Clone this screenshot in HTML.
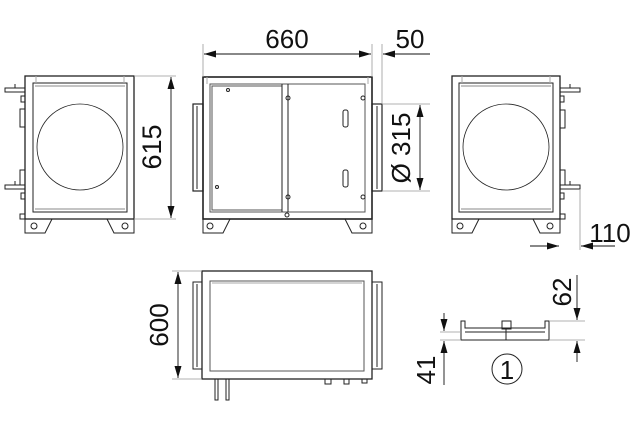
<!DOCTYPE html>
<html><head><meta charset="utf-8"><style>
html,body{margin:0;padding:0;background:#fff;}
svg{display:block;}
text{font-family:"Liberation Sans",sans-serif;fill:#111;}
</style></head><body>
<svg width="640" height="423" viewBox="0 0 640 423" xmlns="http://www.w3.org/2000/svg">
<defs>
<marker id="a" viewBox="0 0 12 7" refX="12" refY="3.5" markerWidth="12" markerHeight="7" markerUnits="userSpaceOnUse" orient="auto"><path d="M0,0L12,3.5L0,7z" fill="#111"/></marker>
</defs>
<g fill="none" stroke="#222" stroke-width="1">
<!-- LEFT VIEW -->
<rect x="25" y="76" width="109" height="143" stroke-width="1.3"/>
<rect x="33" y="83" width="94" height="129"/>
<line x1="35" y1="86" x2="125" y2="86" stroke="#888"/>
<line x1="35" y1="209" x2="125" y2="209" stroke="#888"/>
<line x1="36" y1="76" x2="36" y2="83" stroke="#aaa"/>
<line x1="124" y1="76" x2="124" y2="83" stroke="#aaa"/>
<circle cx="80" cy="147" r="43" stroke-width="0.8"/>
<path d="M25,219V233H45L52,219M107,219L114,233H134V219"/>
<circle cx="34" cy="226" r="3"/><circle cx="125" cy="226" r="3"/>
<rect x="5" y="88" width="20" height="4"/><line x1="15" y1="88" x2="15" y2="84"/>
<rect x="5" y="185" width="20" height="4"/><line x1="15" y1="185" x2="15" y2="181"/>
<rect x="21" y="96" width="4" height="6"/><rect x="20" y="109" width="5" height="18"/>
<rect x="20" y="170" width="5" height="15"/><rect x="21" y="193" width="4" height="6"/>
<rect x="20" y="214" width="5" height="5"/>
<!-- MIDDLE VIEW -->
<rect x="203" y="77" width="169" height="142" stroke-width="1.6"/>
<rect x="193" y="104" width="10" height="87" stroke-width="1.2"/>
<line x1="197" y1="106" x2="197" y2="189"/>
<rect x="372" y="104" width="10" height="87" stroke-width="1.2"/>
<line x1="377" y1="106" x2="377" y2="189"/>
<rect x="210" y="84" width="155" height="128" stroke="#555"/>
<rect x="212" y="86" width="70" height="124" stroke="#555"/>
<line x1="282" y1="84" x2="282" y2="212"/><line x1="288" y1="84" x2="288" y2="212"/>
<line x1="207" y1="77" x2="207" y2="84" stroke="#aaa"/><line x1="368" y1="77" x2="368" y2="84" stroke="#aaa"/>
<circle cx="228" cy="90" r="1.5"/><circle cx="217" cy="187" r="1.5"/>
<circle cx="288" cy="98" r="2"/><circle cx="288" cy="197" r="2"/><circle cx="287" cy="215" r="2"/>
<circle cx="363" cy="98" r="2"/><circle cx="363" cy="197" r="2"/>
<rect x="343" y="110" width="5" height="17" rx="2"/><rect x="343" y="170" width="5" height="17" rx="2"/>
<path d="M203,219V233H223L230,219M345,219L352,233H372V219"/>
<circle cx="210" cy="226" r="3"/><circle cx="363" cy="226" r="3"/>
<!-- RIGHT VIEW -->
<rect x="452" y="76" width="108" height="143" stroke-width="1.3"/>
<rect x="459" y="83" width="94" height="129"/>
<line x1="461" y1="86" x2="551" y2="86" stroke="#888"/>
<line x1="461" y1="209" x2="551" y2="209" stroke="#888"/>
<line x1="462" y1="76" x2="462" y2="83" stroke="#aaa"/>
<line x1="550" y1="76" x2="550" y2="83" stroke="#aaa"/>
<circle cx="506" cy="147" r="43" stroke-width="0.8"/>
<path d="M452,219V233H472L479,219M533,219L540,233H560V219"/>
<circle cx="460" cy="226" r="3"/><circle cx="550" cy="226" r="3"/>
<rect x="560" y="88" width="20" height="4"/><line x1="570" y1="88" x2="570" y2="84"/>
<rect x="560" y="185" width="20" height="4"/><line x1="570" y1="185" x2="570" y2="181"/>
<rect x="560" y="96" width="4" height="6"/><rect x="560" y="110" width="5" height="18"/>
<rect x="560" y="170" width="5" height="15"/><rect x="560" y="193" width="4" height="6"/>
<rect x="560" y="214" width="5" height="5"/>
<!-- BOTTOM VIEW -->
<rect x="202" y="271" width="170" height="108" stroke-width="1.3"/>
<rect x="193" y="282" width="9" height="87"/><line x1="197" y1="284" x2="197" y2="367"/>
<rect x="372" y="282" width="10" height="87"/><line x1="377" y1="284" x2="377" y2="367"/>
<rect x="210" y="281" width="154" height="90" stroke="#555"/>
<line x1="212" y1="283" x2="362" y2="283" stroke="#aaa"/>
<rect x="215" y="379" width="3" height="21"/><rect x="226" y="379" width="3" height="21"/>
<rect x="325" y="379" width="6" height="5"/><rect x="344" y="379" width="5" height="5"/><rect x="362" y="379" width="5" height="4"/>
<!-- DETAIL -->
<path d="M461,321V340H549V321H545V328H465V321Z"/>
<line x1="465" y1="332" x2="545" y2="332"/>
<rect x="502" y="321" width="9" height="8"/>
<line x1="506" y1="329" x2="506" y2="340"/>
<circle cx="507" cy="369" r="15"/>
</g>
<!-- dimension lines -->
<g stroke="#999" stroke-width="0.8" fill="none">
<line x1="134" y1="76" x2="176" y2="76"/><line x1="134" y1="219" x2="176" y2="219"/>
<line x1="203" y1="44" x2="203" y2="77"/><line x1="372" y1="44" x2="372" y2="77"/>
<line x1="382" y1="44" x2="382" y2="104"/>
<line x1="382" y1="104" x2="430" y2="104"/><line x1="382" y1="191" x2="430" y2="191"/>
<line x1="580" y1="190" x2="580" y2="250"/>
<line x1="172" y1="271" x2="202" y2="271"/><line x1="172" y1="379" x2="202" y2="379"/>
<line x1="549" y1="321" x2="585" y2="321"/><line x1="549" y1="340" x2="585" y2="340"/>
<line x1="440" y1="332" x2="461" y2="332"/><line x1="440" y1="340" x2="461" y2="340"/>
</g>
<g stroke="#111" stroke-width="0.9" fill="none">
<line x1="171" y1="147" x2="171" y2="77" marker-end="url(#a)"/><line x1="171" y1="147" x2="171" y2="218" marker-end="url(#a)"/>
<line x1="287" y1="54" x2="204" y2="54" marker-end="url(#a)"/><line x1="287" y1="54" x2="371" y2="54" marker-end="url(#a)"/>
<line x1="430" y1="54" x2="383" y2="54" marker-end="url(#a)"/>
<line x1="420" y1="147" x2="420" y2="105" marker-end="url(#a)"/><line x1="420" y1="147" x2="420" y2="190" marker-end="url(#a)"/>
<line x1="530" y1="246" x2="559" y2="246" marker-end="url(#a)"/><line x1="615" y1="246" x2="581" y2="246" marker-end="url(#a)"/>
<line x1="178" y1="325" x2="178" y2="272" marker-end="url(#a)"/><line x1="178" y1="325" x2="178" y2="378" marker-end="url(#a)"/>
<line x1="577" y1="275" x2="577" y2="320" marker-end="url(#a)"/><line x1="577" y1="362" x2="577" y2="341" marker-end="url(#a)"/>
<line x1="444" y1="313" x2="444" y2="331" marker-end="url(#a)"/><line x1="444" y1="385" x2="444" y2="341" marker-end="url(#a)"/>
</g>
<text x="287" y="48" font-size="26" text-anchor="middle">660</text>
<text x="410" y="48" font-size="26" text-anchor="middle">50</text>
<text transform="translate(161,147) rotate(-90)" font-size="27" text-anchor="middle">615</text>
<text transform="translate(410,148) rotate(-90)" font-size="26" text-anchor="middle">Ø 315</text>
<text x="610" y="242" font-size="26" text-anchor="middle">110</text>
<text transform="translate(168,325) rotate(-90)" font-size="26" text-anchor="middle">600</text>
<text transform="translate(571,292) rotate(-90)" font-size="26" text-anchor="middle">62</text>
<text transform="translate(435,370) rotate(-90)" font-size="26" text-anchor="middle">41</text>
<text x="507" y="379" font-size="26" text-anchor="middle">1</text>
</svg>
</body></html>
